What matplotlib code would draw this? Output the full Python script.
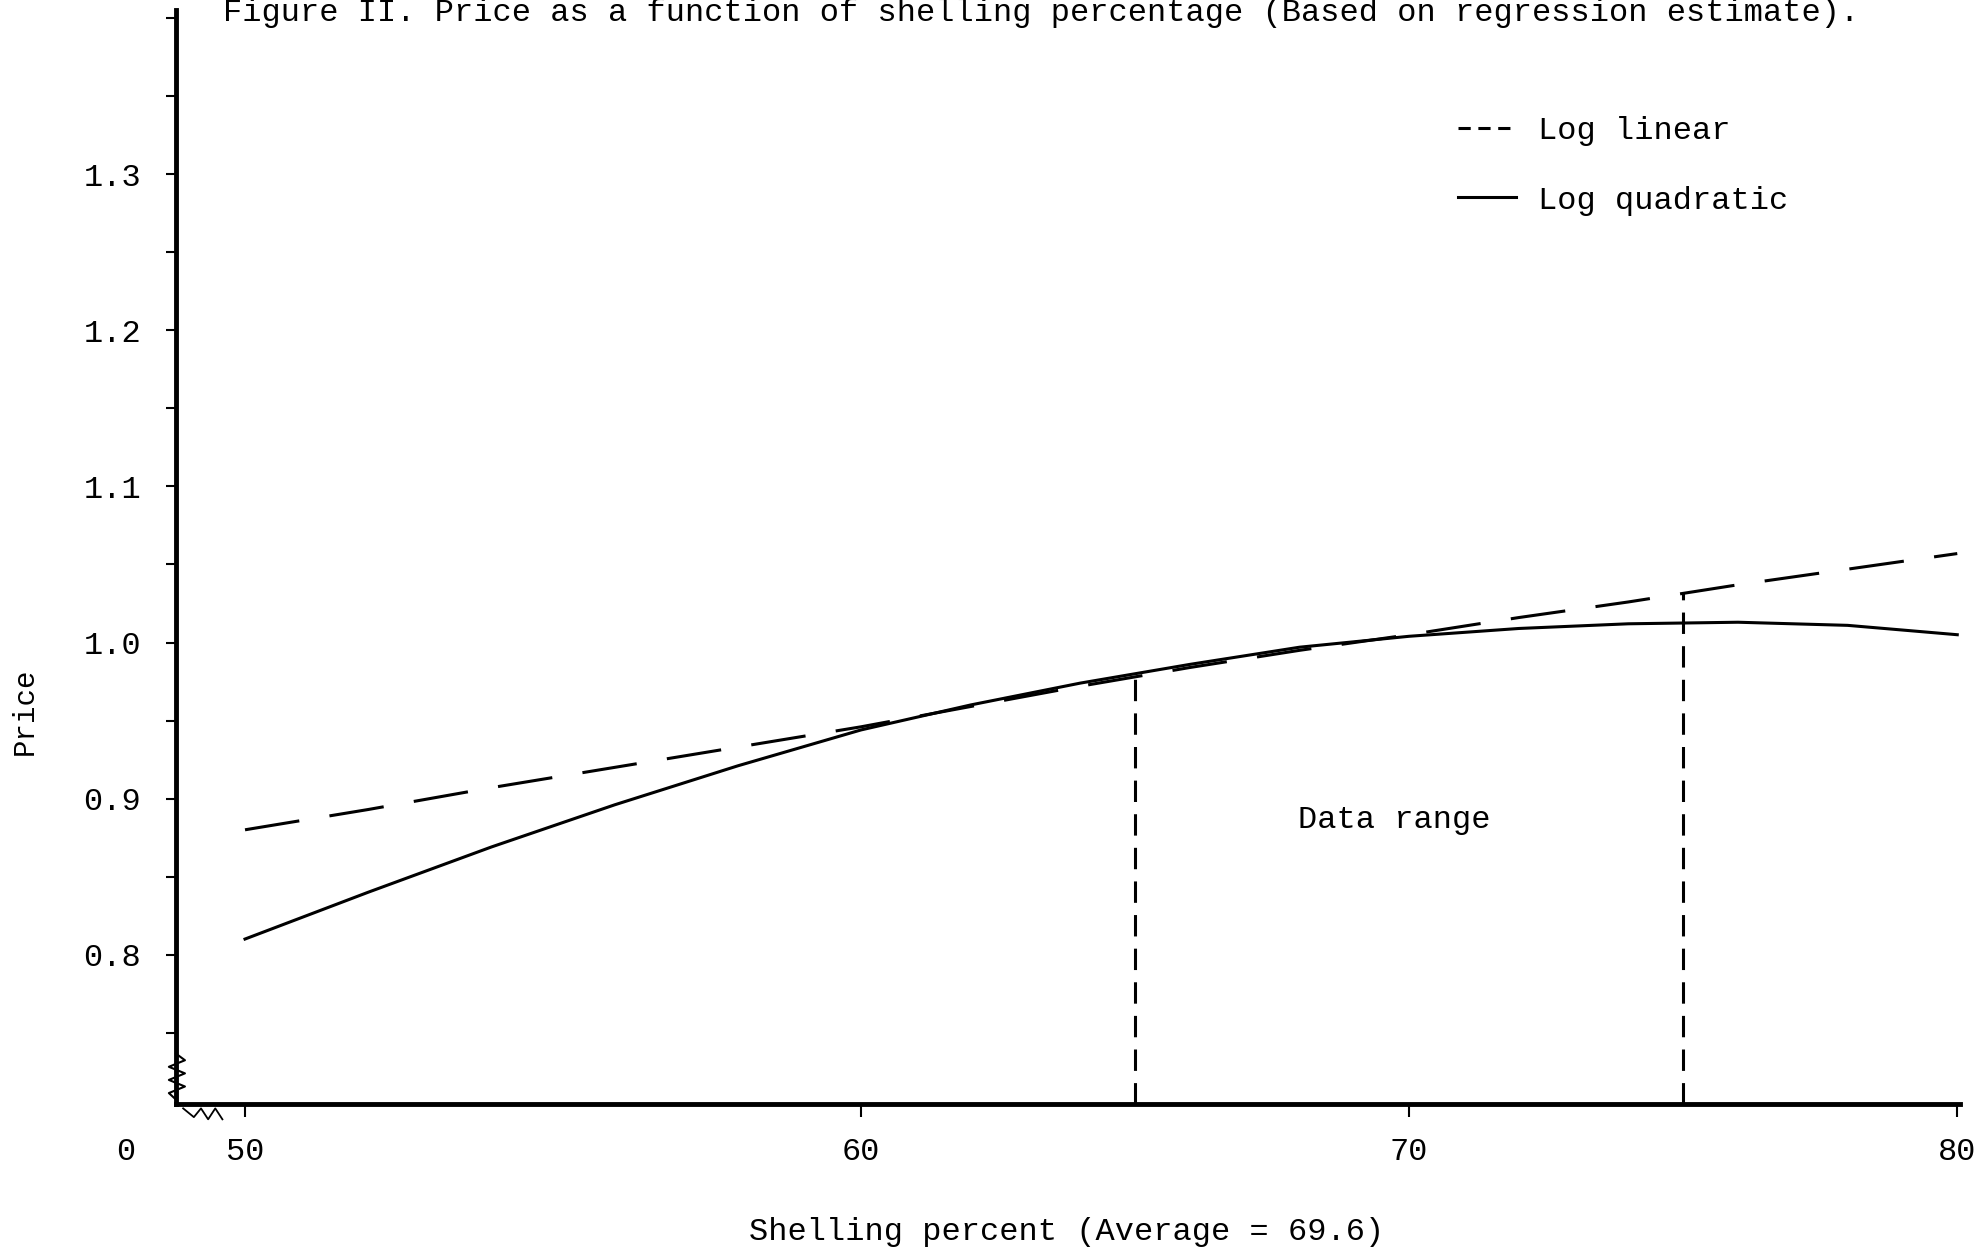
import numpy as np
import matplotlib
matplotlib.use("Agg")
import matplotlib.pyplot as plt
from matplotlib.lines import Line2D

# values
shelling = [50, 52, 54, 56, 58, 60, 62, 64, 66, 68, 70, 72, 74, 76, 78, 80]
log_linear = [0.880, 0.893, 0.907, 0.920, 0.933, 0.946, 0.959, 0.972,
              0.984, 0.995, 1.005, 1.016, 1.026, 1.037, 1.047, 1.057]
log_quadratic = [0.810, 0.840, 0.869, 0.896, 0.921, 0.944, 0.960, 0.974,
                 0.986, 0.997, 1.004, 1.009, 1.012, 1.013, 1.011, 1.005]
data_range = [65, 75]
x_ticks = [50, 60, 70, 80]
y_ticks = [0.8, 0.9, 1.0, 1.1, 1.2, 1.3]

plt.rcParams['font.family'] = ['Liberation Mono', 'DejaVu Sans Mono']
FS = 23

# the hand drawn axis is stretched between 50 and 60
K = 1.124


def fwd(x):
    x = np.asarray(x, dtype=float)
    return np.where(x >= 60, x, 60 - (60 - x) * K)


def inv(u):
    u = np.asarray(u, dtype=float)
    return np.where(u >= 60, u, 60 - (60 - u) / K)


fig = plt.figure(figsize=(19.8, 12.5), dpi=100)
ax = fig.add_axes([0.0889, 0.1168, 0.9899 - 0.0889, 0.992 - 0.1168])
ax.set_xscale('function', functions=(fwd, inv))
ax.set_xlim(48.88, 80.05)
ax.set_ylim(0.7043, 1.4053)

ax.plot(shelling, log_linear, color='k', lw=2.2, linestyle=(0, (18, 10)))
ax.plot(shelling, log_quadratic, color='k', lw=2.2)

tops = np.interp(data_range, shelling, log_linear)
ax.vlines(data_range, 0.7043, tops, colors='k', lw=2.2, linestyles=[(0, (7, 4))])
ax.text(69.73, 0.886, 'Data range', fontsize=FS, ha='center', va='center')

for side in ['top', 'right']:
    ax.spines[side].set_visible(False)
for side in ['left', 'bottom']:
    ax.spines[side].set_linewidth(3.5)

ax.set_xticks(x_ticks)
ax.set_xticklabels([str(t) for t in x_ticks])
ax.set_yticks(y_ticks)
ax.set_yticklabels(['%.1f' % t for t in y_ticks])
ax.set_yticks(list(np.arange(0.75, 1.36, 0.1)) + [1.40], minor=True)
ax.tick_params(axis='y', which='both', direction='out', length=7, width=1.5,
               pad=18, labelsize=FS)
ax.tick_params(axis='x', which='both', direction='out', length=9, width=1.5,
               pad=15, labelsize=FS)
ax.xaxis.set_minor_locator(matplotlib.ticker.NullLocator())

# axis break marks
ax.plot([0, -0.004, 0.005, -0.004, 0.005, -0.004, 0.005, 0],
        [0.004, 0.010, 0.016, 0.022, 0.028, 0.034, 0.040, 0.046],
        transform=ax.transAxes, color='k', lw=1.5, clip_on=False)
ax.plot([0.004, 0.010, 0.014, 0.018, 0.022, 0.026],
        [-0.004, -0.012, -0.004, -0.014, -0.004, -0.014],
        transform=ax.transAxes, color='k', lw=1.3, clip_on=False)
ax.text(-0.028, -0.044, '0', transform=ax.transAxes, fontsize=FS,
        ha='center', va='center')

ax.set_xlabel('Shelling percent (Average = 69.6)', fontsize=FS)
ax.xaxis.label.set_va('center')
ax.xaxis.set_label_coords(0.4994, -0.117)
ax.set_ylabel('Price', fontsize=21)
ax.yaxis.label.set_va('center')
ax.yaxis.set_label_coords(-0.0846, 0.359)

handles = [Line2D([], [], color='k', lw=2.2, linestyle=(0, (4, 2.5))),
           Line2D([], [], color='k', lw=2.2)]
ax.legend(handles, ['Log linear', 'Log quadratic'], loc='upper left',
          bbox_to_anchor=(0.7364, 0.9072), bbox_transform=fig.transFigure,
          frameon=False, fontsize=FS, handlelength=1.8, handletextpad=0.7,
          labelspacing=1.24, borderpad=0, borderaxespad=0)

fig.text(0.1126, 1 - 21 / 1250,
         'Figure II. Price as a function of shelling percentage (Based on regression estimate).',
         fontsize=FS, va='baseline', ha='left')

fig.savefig('out.png', dpi=100)
